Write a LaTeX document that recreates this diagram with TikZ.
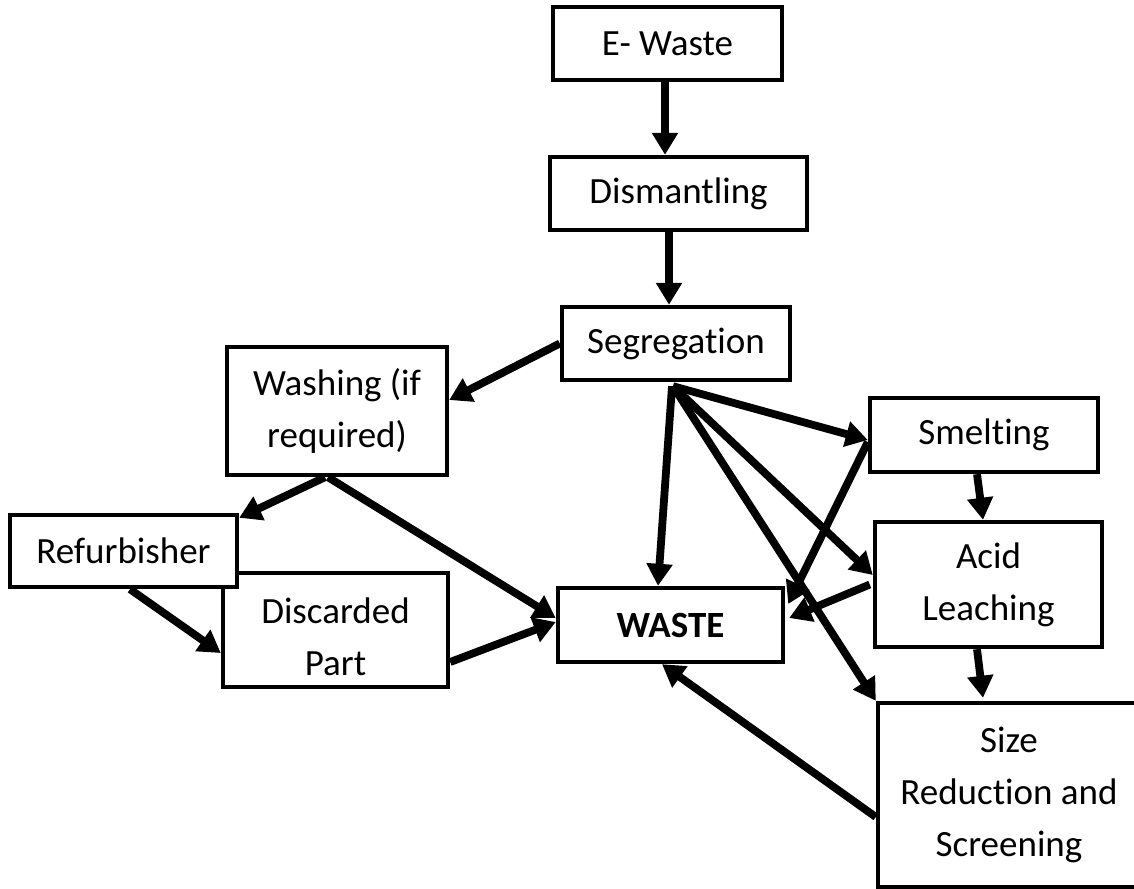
\documentclass[tikz,border=0pt]{standalone}
\usepackage{fontspec}
\setmainfont{Carlito}[Ligatures={NoCommon}]
\usetikzlibrary{arrows.meta}
\begin{document}
\begin{tikzpicture}[x=0.5pt,y=-0.5pt,
  txt/.style={align=center,font=\fontsize{18.5}{26}\selectfont},
  box/.style={draw,line width=2.2pt,fill=white,inner sep=0pt,txt},
  arr/.style={line width=3.9pt,-{Triangle[length=11pt,width=12.5pt]}}]
\useasboundingbox (0,0) rectangle (1134,888);
% boxes
\node[box,minimum width=114.5pt,minimum height=36.5pt] (ewaste) at (667.5,43.5) {E- Waste};
\node[box,minimum width=128.5pt,minimum height=36.5pt] (dism) at (678.5,193.5) {Dismantling};
\node[box,minimum width=114pt,minimum height=36.5pt] (seg) at (676,343.5) {Segregation};
\node[box,minimum width=110pt,minimum height=64pt] (wash) at (337,411) {Washing (if\\required)};
\node[box,minimum width=112.5pt,minimum height=57pt,
  label={[txt,yshift=-3.5pt]center:Discarded\\Part}] (disc) at (335.5,630) {};
\node[box,minimum width=113.5pt,minimum height=36pt] (refurb) at (123.5,551) {Refurbisher};
\node[box,minimum width=112.5pt,minimum height=37pt] (waste) at (670.5,625) {\textbf{WASTE}};
\node[box,minimum width=114pt,minimum height=37pt] (smelt) at (984,435) {Smelting};
\node[box,minimum width=113.5pt,minimum height=62.5pt] (acid) at (988.5,584.5) {Acid\\Leaching};
\node[box,minimum width=131pt,minimum height=92pt] (size) at (1009,795) {Size\\Reduction and\\Screening};
% connectors
\draw[arr] ([xshift=-1.25pt]ewaste.south) -- ([xshift=-6.75pt]dism.north);
\draw[arr] ([xshift=-4.75pt]dism.south) -- ([xshift=-3.5pt]seg.north);
\draw[arr] (seg.west) -- ([yshift=5.5pt]wash.east);
\draw[arr] ([xshift=-2pt,yshift=-2pt]seg.south) -- ([xshift=-6.25pt]waste.north);
\draw[arr] ([xshift=-1.5pt,yshift=-2pt]seg.south) -- ([yshift=-2.5pt]smelt.west);
\draw[arr] ([xshift=-1.5pt,yshift=-2pt]seg.south) -- ([yshift=4.75pt]acid.west);
\draw[arr] ([xshift=-1.5pt,yshift=-2pt]seg.south) -- (size.north west);
\draw[arr] ([yshift=-3.5pt]smelt.west) -- ([xshift=1.5pt,yshift=10.5pt]waste.east);
\draw[arr] ([xshift=-1.5pt]acid.west) -- ([xshift=2pt,yshift=3.5pt]waste.east);
\draw[arr] ([xshift=-3.5pt]smelt.south) -- ([xshift=-2.75pt]acid.north);
\draw[arr] ([xshift=-5.75pt]acid.south) -- ([xshift=-13pt,yshift=1.5pt]size.north);
\draw[arr] ([yshift=-11pt]size.west) -- ([xshift=-4.25pt]waste.south);
\draw[arr] ([xshift=-6pt]wash.south) -- ([yshift=-2.5pt]refurb.north east);
\draw[arr] ([xshift=-4.5pt]wash.south) -- ([yshift=3.5pt]waste.west);
\draw[arr] ([yshift=-16pt]disc.east) -- ([yshift=1.5pt]waste.west);
\draw[arr] ([xshift=3.25pt]refurb.south) -- ([yshift=-11.5pt]disc.west);
\end{tikzpicture}
\end{document}
